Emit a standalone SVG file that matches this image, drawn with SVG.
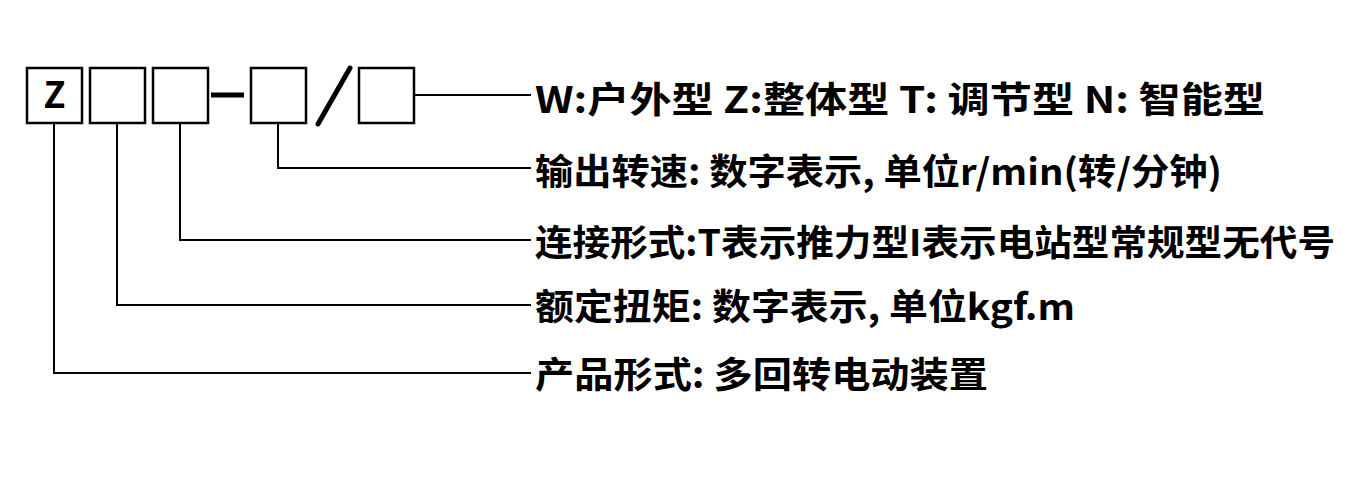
<svg xmlns="http://www.w3.org/2000/svg" width="1355" height="477" viewBox="0 0 1355 477">
<style>
.b{fill:none;stroke:#000;stroke-width:2.5}
.l{fill:none;stroke:#000;stroke-width:2}
text{font-family:"Noto Sans CJK SC","Liberation Sans",sans-serif;font-weight:bold;font-size:36px;fill:#000}
</style>
<rect width="1355" height="477" fill="#fff"/>
<g id="box1"><rect class="b" x="27" y="68" width="55" height="55"/><text x="54.5" y="108" text-anchor="middle" font-size="30">Z</text></g>
<g id="box2"><rect class="b" x="90" y="68" width="55" height="55"/></g>
<g id="box3"><rect class="b" x="153" y="68" width="55" height="55"/></g>
<g id="dash"><line x1="211" y1="95" x2="244" y2="95" stroke="#000" stroke-width="5"/></g>
<g id="box4"><rect class="b" x="251" y="68" width="55" height="55"/></g>
<g id="slash"><line x1="318" y1="124" x2="350" y2="68" stroke="#000" stroke-width="5" stroke-linecap="round"/></g>
<g id="box5"><rect class="b" x="359" y="68" width="55" height="55"/></g>
<g id="connectors">
<polyline class="l" points="414,95 531,95"/>
<polyline class="l" points="278,123 278,168 531,168"/>
<polyline class="l" points="180,123 180,240 531,240"/>
<polyline class="l" points="117,123 117,305 531,305"/>
<polyline class="l" points="54,123 54,373 531,373"/>
</g>
<g id="labels">
<text x="535" y="113" textLength="730" lengthAdjust="spacingAndGlyphs">W:户外型  Z:整体型  T: 调节型  N: 智能型</text>
<text x="535" y="185" textLength="687" lengthAdjust="spacingAndGlyphs">输出转速: 数字表示, 单位r/min(转/分钟)</text>
<text x="535" y="256" textLength="800" lengthAdjust="spacingAndGlyphs">连接形式:T表示推力型I表示电站型常规型无代号</text>
<text x="535" y="320" textLength="540" lengthAdjust="spacingAndGlyphs">额定扭矩: 数字表示, 单位kgf.m</text>
<text x="535" y="388" textLength="453" lengthAdjust="spacingAndGlyphs">产品形式: 多回转电动装置</text>
</g>
</svg>
